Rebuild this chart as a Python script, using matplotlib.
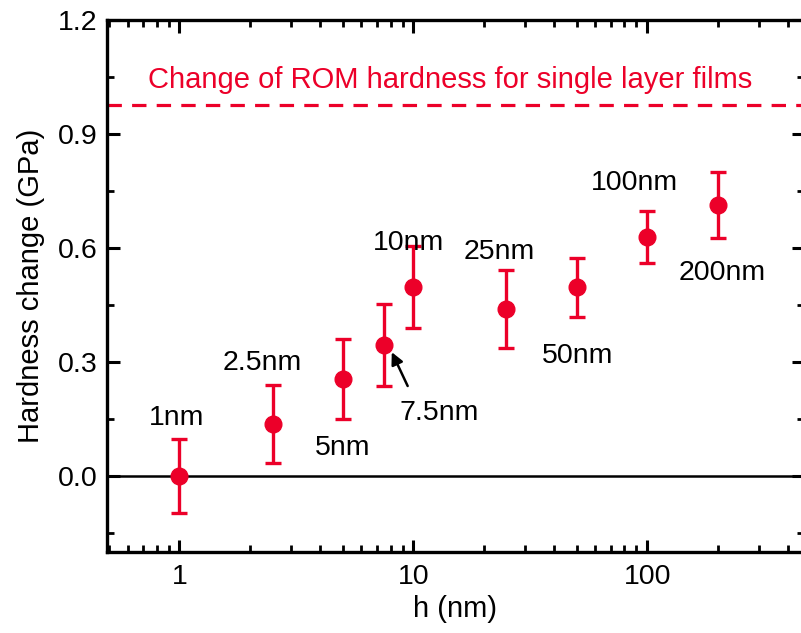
import matplotlib
matplotlib.use("Agg")
import matplotlib.pyplot as plt
from matplotlib.ticker import FixedLocator, LogLocator, NullFormatter

plt.rcParams['font.family'] = ['Liberation Sans', 'DejaVu Sans']

# Data
h_nm = [1, 2.5, 5, 7.5, 10, 25, 50, 100, 200]
hardness_change = [0.0, 0.137, 0.255, 0.345, 0.497, 0.44, 0.497, 0.629, 0.713]
err = [0.097, 0.103, 0.105, 0.107, 0.108, 0.102, 0.077, 0.068, 0.087]
labels = ["1nm", "2.5nm", "5nm", "7.5nm", "10nm", "25nm", "50nm", "100nm", "200nm"]
label_pos = [(0.97, 0.152), (2.27, 0.297), (4.99, 0.074), (12.86, 0.166),
             (9.57, 0.613), (23.2, 0.589), (50.6, 0.316), (87.9, 0.771), (209.5, 0.534)]
single_layer_change = 0.976
ref_text = "Change of ROM hardness for single layer films"

red = "#EC0029"

fig = plt.figure(figsize=(8.01, 6.33), dpi=100)
ax = fig.add_axes([0.1336, 0.128, 0.8700, 0.840])

ax.set_xscale('log')
ax.set_xlim(0.49, 468)
ax.set_ylim(-0.2, 1.2)

ax.axhline(0.0, color='black', lw=1.8, zorder=1)
ax.axhline(single_layer_change, color=red, lw=2.3, dashes=(4.5, 3.2), zorder=1)

ax.errorbar(h_nm, hardness_change, yerr=err, fmt='o', color=red, ms=12,
            elinewidth=2.4, capsize=6, capthick=2.4, zorder=3)

for lab, (lx, ly) in zip(labels, label_pos):
    ax.text(lx, ly, lab, ha='center', va='center', fontsize=20.5, color='black')

ax.annotate("", xy=(8.09, 0.326), xytext=(9.46, 0.237),
            arrowprops=dict(arrowstyle='-|>', color='black', lw=1.8,
                            mutation_scale=18, shrinkA=0, shrinkB=0))

ax.text(0.737, 1.042, ref_text, ha='left', va='center', fontsize=21, color=red)

ax.set_yticks([0.0, 0.3, 0.6, 0.9, 1.2])
ax.set_yticklabels(["0.0", "0.3", "0.6", "0.9", "1.2"])
ax.yaxis.set_minor_locator(FixedLocator([-0.15, 0.15, 0.45, 0.75, 1.05]))
ax.set_xticks([1, 10, 100])
ax.set_xticklabels(["1", "10", "100"])
ax.xaxis.set_minor_locator(LogLocator(base=10, subs=range(2, 10), numticks=20))
ax.xaxis.set_minor_formatter(NullFormatter())

ax.tick_params(axis='both', which='major', direction='in', length=9, width=2.2,
               labelsize=20.5, top=True, right=True)
ax.tick_params(axis='both', which='minor', direction='in', length=5, width=2.0,
               top=True, right=True)
ax.tick_params(axis='y', which='major', pad=7)
ax.tick_params(axis='x', which='major', pad=9)

for s in ax.spines.values():
    s.set_linewidth(2.4)

ax.set_xlabel("h (nm)", fontsize=21, labelpad=3)
ax.set_ylabel("Hardness change (GPa)", fontsize=21, labelpad=9)

fig.savefig("out.png", dpi=100)
